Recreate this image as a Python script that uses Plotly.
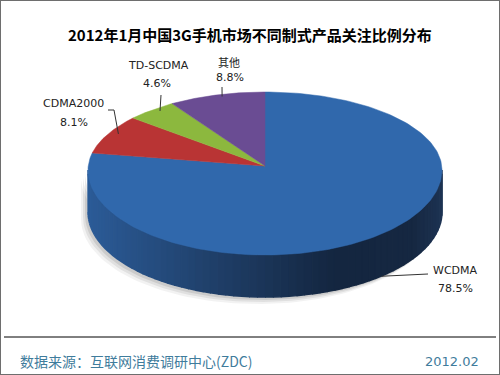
import numpy as np
import plotly.graph_objects as go

# ---------------- data ----------------
names = ["WCDMA", "CDMA2000", "TD-SCDMA", "其他"]
shares = [78.5, 8.1, 4.6, 8.8]
colors = ["#3068AC", "#B93434", "#8CB83E", "#6A4C93"]

title = "2012年1月中国3G手机市场不同制式产品关注比例分布"
source = "数据来源：互联网消费调研中心(ZDC)"
date_label = "2012.02"

# ---------------- geometry (pixel space) ----------------
CX, CY = 265.0, 170.0          # ellipse centre
AX = 177.0                      # half width
B_TOP, B_BOT = 78.0, 85.0       # perspective half heights
APEX = (265.0, 166.0)
DEPTH = 42.0
START = 90.0                    # degrees, slices run clockwise


def edge(phi_deg):
    p = np.radians(phi_deg)
    s = np.sin(p)
    b = np.where(s > 0, B_TOP, B_BOT)
    return CX + AX * np.cos(p), CY - b * s


fig = go.Figure()

# slice angles
total = sum(shares)
bounds = [START]
for v in shares:
    bounds.append(bounds[-1] - v / total * 360.0)

# soft shadow
for off, op in [(7, 0.05), (5, 0.07), (3, 0.09)]:
    ph = np.linspace(180, 360, 80)
    xs, ys = edge(ph)
    xb = np.concatenate([xs, xs[::-1]]) - off
    yb = np.concatenate([ys + DEPTH, ys[::-1]]) + off
    fig.add_trace(go.Scatter(x=xb, y=yb, fill="toself", mode="lines",
                             line=dict(width=0), fillcolor=f"rgba(0,0,0,{op})",
                             hoverinfo="skip", showlegend=False))


# side wall (front half) with gradient
def side_color(t):
    stops = [(0.0, (44, 92, 152)), (0.35, (32, 64, 106)), (0.7, (20, 38, 64)),
             (0.92, (22, 40, 66)), (1.0, (30, 52, 84))]
    for (t0, c0), (t1, c1) in zip(stops[:-1], stops[1:]):
        if t <= t1:
            f = (t - t0) / (t1 - t0)
            c = [int(c0[i] + f * (c1[i] - c0[i])) for i in range(3)]
            return f"rgb({c[0]},{c[1]},{c[2]})"
    c = stops[-1][1]
    return f"rgb({c[0]},{c[1]},{c[2]})"


def side_slice_color(phi_mid):
    for i in range(len(shares)):
        hi, lo = bounds[i], bounds[i + 1]
        m = phi_mid
        while m > hi:
            m -= 360
        while m < lo:
            m += 360
        if lo <= m <= hi:
            return i
    return 0


N = 70
edges_phi = np.linspace(180, 360, N + 1)
for k in range(N):
    ph = np.linspace(edges_phi[k], edges_phi[k + 1], 4)
    xs, ys = edge(ph)
    xb = np.concatenate([xs, xs[::-1]])
    yb = np.concatenate([ys, ys[::-1] + DEPTH])
    t = (xs.mean() - (CX - AX)) / (2 * AX)
    idx = side_slice_color((edges_phi[k] + edges_phi[k + 1]) / 2)
    col = side_color(t) if idx == 0 else colors[idx]
    fig.add_trace(go.Scatter(x=xb, y=yb, fill="toself", mode="lines",
                             line=dict(width=1.5, color=col), fillcolor=col,
                             hoverinfo="skip", showlegend=False))

# top face slices
for i, (n, v) in enumerate(zip(names, shares)):
    ph = np.linspace(bounds[i], bounds[i + 1], 200)
    xs, ys = edge(ph)
    xp = np.concatenate([[APEX[0]], xs, [APEX[0]]])
    yp = np.concatenate([[APEX[1]], ys, [APEX[1]]])
    fig.add_trace(go.Scatter(x=xp, y=yp, fill="toself", mode="lines",
                             line=dict(width=0.5, color=colors[i]),
                             fillcolor=colors[i], name=n,
                             hoverinfo="text", text=f"{n}: {v}%",
                             showlegend=False))

# ---------------- labels ----------------
label_name_xy = [(455, 270), (73, 103), (158, 65), (229, 62)]
label_pct_xy = [(455, 288), (74, 122), (157, 83), (230, 77)]
leader_elbows = [[(428, 274)], [(114, 110), (108, 110)], [(161, 95)], [(222, 87)]]

for i, (n, v) in enumerate(zip(names, shares)):
    mid = (bounds[i] + bounds[i + 1]) / 2
    ex, ey = edge(mid)
    ex, ey = float(ex), float(ey)
    if np.sin(np.radians(mid)) < 0:
        ax_, ay_ = ex + 6, ey + DEPTH * 0.95
    else:
        ax_ = APEX[0] + 0.95 * (ex - APEX[0]) + 3
        ay_ = APEX[1] + 0.95 * (ey - APEX[1]) - 2
    pts = [(ax_, ay_)] + leader_elbows[i]
    fig.add_trace(go.Scatter(x=[p[0] for p in pts], y=[p[1] for p in pts],
                             mode="lines", line=dict(color="#333333", width=1),
                             hoverinfo="skip", showlegend=False))
    fnt = "Noto Sans CJK SC" if n == "其他" else "DejaVu Sans"
    fig.add_annotation(x=label_name_xy[i][0], y=label_name_xy[i][1], text=n,
                       showarrow=False, font=dict(family=fnt, size=11, color="#222222"),
                       xanchor="center", yanchor="middle")
    fig.add_annotation(x=label_pct_xy[i][0], y=label_pct_xy[i][1], text=f"{v}%",
                       showarrow=False, font=dict(family="DejaVu Sans", size=11, color="#222222"),
                       xanchor="center", yanchor="middle")

# title
fig.add_annotation(x=250, y=34, text=f"<b>{title}</b>", showarrow=False,
                   font=dict(family="Noto Sans CJK SC", size=15, color="#000000"),
                   xanchor="center", yanchor="middle")
# footer
fig.add_annotation(x=18, y=361, text=source, showarrow=False,
                   font=dict(family="Noto Sans CJK SC", size=14, color="#3F7C9C"),
                   xanchor="left", yanchor="middle")
fig.add_annotation(x=481, y=361, text=date_label, showarrow=False,
                   font=dict(family="DejaVu Sans", size=13, color="#3F7C9C"),
                   xanchor="right", yanchor="middle")

fig.add_shape(type="line", x0=4, x1=496, y0=337, y1=337,
              line=dict(color="#000000", width=1), xref="x", yref="y")
fig.add_shape(type="rect", x0=0, x1=1, y0=0, y1=1, xref="paper", yref="paper",
              line=dict(color="#6E6E6E", width=2))

fig.update_layout(
    width=500, height=375,
    margin=dict(l=0, r=0, t=0, b=0),
    paper_bgcolor="white", plot_bgcolor="white",
    xaxis=dict(range=[0, 500], visible=False, fixedrange=True),
    yaxis=dict(range=[375, 0], visible=False, fixedrange=True),
    showlegend=False,
)

fig.write_html("out.html",
               post_script="document.body.style.margin='0';document.body.style.overflow='hidden';",
               config={"displayModeBar": False})
